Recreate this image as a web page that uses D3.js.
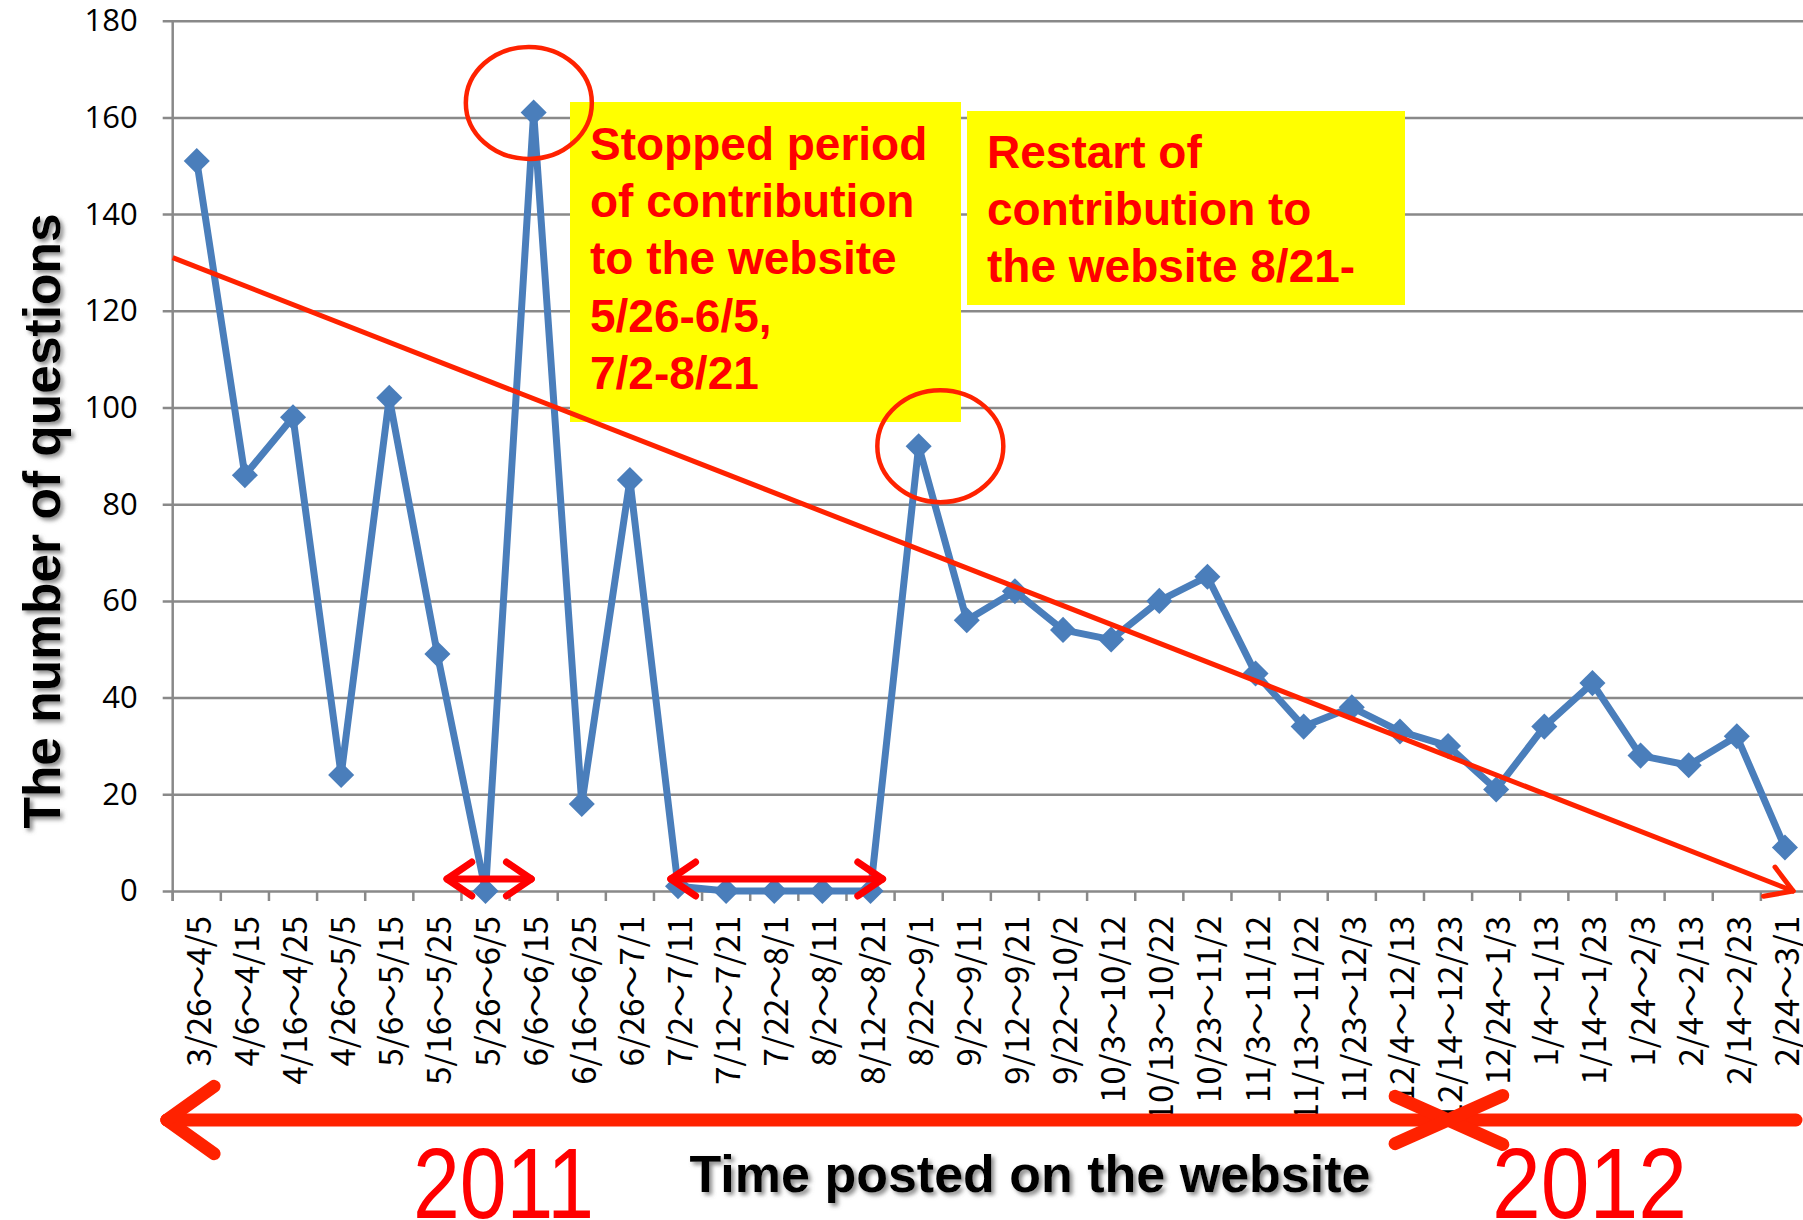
<!DOCTYPE html>
<html>
<head>
<meta charset="utf-8">
<script src="https://cdn.jsdelivr.net/npm/d3@7"></script>
<style>
  html, body { margin: 0; padding: 0; background: #fff; overflow: hidden; }
</style>
</head>
<body>
<div id="chart"></div>
<script>
// data
const categories = [
  "3/26～4/5", "4/6～4/15", "4/16～4/25", "4/26～5/5", "5/6～5/15", "5/16～5/25",
  "5/26～6/5", "6/6～6/15", "6/16～6/25", "6/26～7/1", "7/2～7/11", "7/12～7/21",
  "7/22～8/1", "8/2～8/11", "8/12～8/21", "8/22～9/1", "9/2～9/11", "9/12～9/21",
  "9/22～10/2", "10/3～10/12", "10/13～10/22", "10/23～11/2", "11/3～11/12",
  "11/13～11/22", "11/23～12/3", "12/4～12/13", "12/14～12/23", "12/24～1/3",
  "1/4～1/13", "1/14～1/23", "1/24～2/3", "2/4～2/13", "2/14～2/23", "2/24～3/1"
];
const questions = [151, 86, 98, 24, 102, 49, 0, 161, 18, 85, 1, 0, 0, 0, 0, 92, 56, 62,
  54, 52, 60, 65, 45, 34, 38, 33, 30, 21, 34, 43, 28, 26, 32, 9];
const yTicks = [0, 20, 40, 60, 80, 100, 120, 140, 160, 180];

// trend line (category index, value)
const trendIndex = [-0.5, 33.17];
const trendValue = [131, 0];

// circled peaks (category index, value)
const circleIndex = [6.9, 15.45];
const circleValue = [163, 92];

// stopped periods (category index from / to)
const stopFrom = [5.2, 9.85];
const stopTo = [6.95, 14.25];

// year spans along the bottom (category index)
const yearNames = ["2011", "2012"];
const yearFrom = [-0.62, 26.0];
const yearTo = [26.0, 33.23];

const noteStopped = ["Stopped period", "of contribution", "to the website", "5/26-6/5,", "7/2-8/21"];
const noteRestart = ["Restart of", "contribution to", "the website 8/21-"];

const W = 1803, H = 1220;
const plotLeft = 172.7, plotRight = 1809, plotTop = 20.7, plotBottom = 891;

const svg = d3.select("#chart").append("svg")
  .attr("width", W).attr("height", H)
  .style("display", "block");

const defs = svg.append("defs");
const shadow = defs.append("filter").attr("id", "shadow")
  .attr("x", "-10%").attr("y", "-20%").attr("width", "130%").attr("height", "160%");
shadow.append("feDropShadow")
  .attr("dx", 3).attr("dy", 3).attr("stdDeviation", 2)
  .attr("flood-color", "#777").attr("flood-opacity", 0.85);

const x = d3.scaleBand().domain(categories).range([plotLeft, plotRight]);
const xi = d3.scaleLinear().domain([-0.5, categories.length - 0.5]).range([plotLeft, plotRight]);
const y = d3.scaleLinear().domain([0, 180]).range([plotBottom, plotTop]);

const gridColor = "#898989";

// gridlines + y axis
const yAxis = svg.append("g")
  .attr("transform", `translate(${plotLeft},0)`)
  .call(d3.axisLeft(y).tickValues(yTicks).tickSize(-(plotRight - plotLeft)).tickSizeOuter(0).tickPadding(35));
yAxis.select(".domain").remove();
yAxis.selectAll(".tick line")
  .attr("x1", -10)
  .attr("stroke", gridColor).attr("stroke-width", 2.5);
yAxis.selectAll(".tick text")
  .attr("font-family", "'Open Sans', 'Noto Sans', sans-serif")
  .attr("font-size", 31).attr("fill", "#000");

svg.append("line")
  .attr("x1", plotLeft).attr("x2", plotLeft).attr("y1", plotTop).attr("y2", plotBottom + 10)
  .attr("stroke", gridColor).attr("stroke-width", 2.5);

// x ticks at band edges
svg.append("g").selectAll("line")
  .data(d3.range(categories.length + 1))
  .join("line")
  .attr("x1", i => xi(i - 0.5)).attr("x2", i => xi(i - 0.5))
  .attr("y1", plotBottom).attr("y2", plotBottom + 10)
  .attr("stroke", gridColor).attr("stroke-width", 2.5);

// x labels
svg.append("g").selectAll("text")
  .data(categories)
  .join("text")
  .attr("transform", d => `translate(${x(d) + x.bandwidth() / 2},${plotBottom + 25}) rotate(-90)`)
  .attr("text-anchor", "end")
  .attr("dominant-baseline", "central")
  .attr("font-family", "'Noto Sans CJK JP', sans-serif")
  .attr("font-size", 33)
  .attr("fill", "#000")
  .text(d => d);

// yellow notes
const notes = [
  {box: [570, 102, 391, 320], tx: 590, ty: 160, lines: noteStopped},
  {box: [967, 111, 438, 194], tx: 987, ty: 168, lines: noteRestart}
];
notes.forEach(n => {
  svg.append("rect")
    .attr("x", n.box[0]).attr("y", n.box[1])
    .attr("width", n.box[2]).attr("height", n.box[3])
    .attr("fill", "#ffff00");
  svg.append("g").selectAll("text")
    .data(n.lines)
    .join("text")
    .attr("x", n.tx).attr("y", (d, i) => n.ty + i * 57.2)
    .attr("font-family", "'Liberation Sans', Arial, sans-serif")
    .attr("font-weight", "bold").attr("font-size", 46)
    .attr("fill", "#ff0000")
    .text(d => d);
});

// data line
const line = d3.line()
  .x((d, i) => x(categories[i]) + x.bandwidth() / 2)
  .y(d => y(d));

svg.append("path")
  .datum(questions)
  .attr("d", line)
  .attr("fill", "none")
  .attr("stroke", "#4a7ebb")
  .attr("stroke-width", 7)
  .attr("stroke-linejoin", "round");

svg.append("g").selectAll("path")
  .data(questions)
  .join("path")
  .attr("d", d3.symbol(d3.symbolSquare, 340))
  .attr("transform", (d, i) => `translate(${x(categories[i]) + x.bandwidth() / 2},${y(d)}) rotate(45)`)
  .attr("fill", "#4a7ebb");

const red = "#ff2200";

// open arrow head helper
function head(g, tipX, tipY, dirX, dirY, len, spread, color, width) {
  const a = Math.atan2(dirY, dirX);
  [spread, -spread].forEach(s => {
    g.append("line")
      .attr("x1", tipX).attr("y1", tipY)
      .attr("x2", tipX - len * Math.cos(a + s))
      .attr("y2", tipY - len * Math.sin(a + s))
      .attr("stroke", color).attr("stroke-width", width)
      .attr("stroke-linecap", "round");
  });
}

// trend arrow
const trend = svg.append("g");
const tx0 = xi(trendIndex[0]), ty0 = y(trendValue[0]);
const tx1 = xi(trendIndex[1]), ty1 = y(trendValue[1]);
trend.append("line")
  .attr("x1", tx0).attr("y1", ty0).attr("x2", tx1).attr("y2", ty1)
  .attr("stroke", red).attr("stroke-width", 5);
head(trend, tx1, ty1, tx1 - tx0, ty1 - ty0, 30, 0.55, red, 5);

// circled peaks
svg.append("g").selectAll("ellipse")
  .data(circleIndex)
  .join("ellipse")
  .attr("cx", d => xi(d))
  .attr("cy", (d, i) => y(circleValue[i]))
  .attr("rx", 63).attr("ry", 56)
  .attr("fill", "none")
  .attr("stroke", red).attr("stroke-width", 4.5);

// stopped-period double arrows
const stops = svg.append("g");
stopFrom.forEach((f, i) => {
  const a = xi(f), b = xi(stopTo[i]), yy = plotBottom - 12;
  stops.append("line")
    .attr("x1", a).attr("x2", b).attr("y1", yy).attr("y2", yy)
    .attr("stroke", "#ff0000").attr("stroke-width", 7);
  head(stops, a, yy, -1, 0, 30, 0.6, "#ff0000", 7);
  head(stops, b, yy, 1, 0, 30, 0.6, "#ff0000", 7);
});

// year arrows along the bottom
const years = svg.append("g");
const yearY = 1120;
yearFrom.forEach((f, i) => {
  const a = xi(f), b = xi(yearTo[i]);
  years.append("line")
    .attr("x1", a).attr("x2", b).attr("y1", yearY).attr("y2", yearY)
    .attr("stroke", red).attr("stroke-width", 13)
    .attr("stroke-linecap", "round");
});
head(years, xi(yearFrom[0]), yearY, -1, 0, 58, 0.62, red, 13);
head(years, xi(yearTo[0]), yearY, 1, 0, 58, 0.42, red, 13);
head(years, xi(yearFrom[1]), yearY, -1, 0, 60, 0.42, red, 13);

svg.append("g").selectAll("text")
  .data(yearNames)
  .join("text")
  .attr("x", (d, i) => [413, 1492][i])
  .attr("y", 1218)
  .attr("textLength", (d, i) => [181, 195][i])
  .attr("lengthAdjust", "spacingAndGlyphs")
  .attr("font-family", "'Liberation Sans Narrow', 'Liberation Sans', sans-serif")
  .attr("font-size", 101)
  .attr("fill", "#ff0000")
  .text(d => d);

// axis titles
svg.append("g").attr("filter", "url(#shadow)")
  .append("text")
  .attr("transform", "translate(60,521) rotate(-90)")
  .attr("text-anchor", "middle")
  .attr("font-family", "'Liberation Sans', Arial, sans-serif")
  .attr("font-weight", "bold").attr("font-size", 51.5)
  .attr("fill", "#000")
  .text("The number of questions");

svg.append("g").attr("filter", "url(#shadow)")
  .append("text")
  .attr("x", 1030).attr("y", 1192)
  .attr("text-anchor", "middle")
  .attr("font-family", "'Liberation Sans', Arial, sans-serif")
  .attr("font-weight", "bold").attr("font-size", 52)
  .attr("fill", "#000")
  .text("Time posted on the website");
</script>
</body>
</html>
